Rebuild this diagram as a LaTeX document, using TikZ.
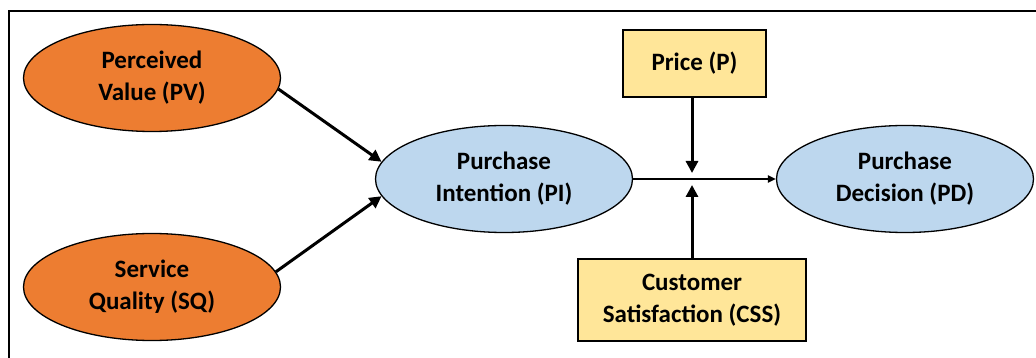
\documentclass[tikz,border=0pt]{standalone}
\usepackage{fontspec}
\setmainfont{Carlito}
\usetikzlibrary{shapes.geometric,arrows.meta}
\definecolor{orng}{RGB}{237,125,49}
\definecolor{lblue}{RGB}{189,215,238}
\definecolor{lyel}{RGB}{255,230,153}
\tikzset{
  txt/.style={font=\fontsize{25}{32}\selectfont\bfseries, align=center, inner sep=0pt},
  oval/.style={txt, ellipse, draw=black, line width=1.3pt, minimum width=257pt, minimum height=107pt},
  drv/.style={oval, fill=orng},
  mid/.style={oval, fill=lblue},
  boxy/.style={txt, rectangle, draw=black, line width=1.3pt, fill=lyel},
  bigarrow/.style={line width=3pt, -{Triangle[length=12pt,width=12pt]}},
  thinarrow/.style={line width=2pt, -{Triangle[length=8pt,width=7pt]}}
}
\begin{document}
\begin{tikzpicture}[x=1pt,y=-1pt]
\useasboundingbox (0,0) rectangle (1036,358);
\begin{scope}
\clip (0,0) rectangle (1036,358);
\draw[line width=1.4pt] (9,370) -- (9,11) -- (1050,11);
\end{scope}
\node[drv] (PV) at (152,78) {Perceived\\Value (PV)};
\node[drv] (SQ) at (152,287) {Service\\Quality (SQ)};
\node[mid] (PI) at (504,179) {Purchase\\Intention (PI)};
\node[mid] (PD) at (905,179) {Purchase\\Decision (PD)};
\node[boxy, minimum width=143pt, minimum height=67pt] (P) at (694.5,63.5) {Price (P)};
\node[boxy, minimum width=228pt, minimum height=82pt] (CSS) at (692,300) {Customer\\Satisfaction (CSS)};
\coordinate (mtop) at (692,173);
\coordinate (mbot) at (692,185);
\draw[bigarrow] (PV.-5) -- (PI.172);
\draw[bigarrow] (SQ.7) -- (PI.188);
\draw[thinarrow] (PI.east) -- (PD.west);
\draw[bigarrow] (P.south -| mtop) -- (mtop);
\draw[bigarrow] (CSS.north -| mbot) -- (mbot);
\end{tikzpicture}
\end{document}
